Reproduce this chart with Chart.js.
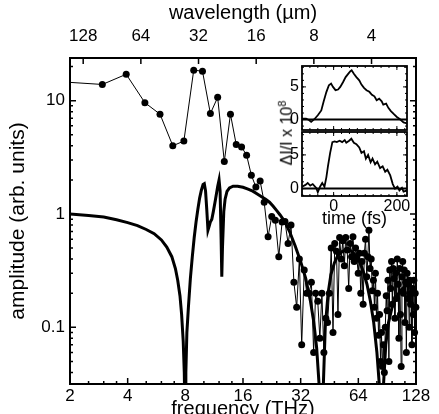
<!DOCTYPE html>
<html>
<head>
<meta charset="utf-8">
<script src="https://cdn.jsdelivr.net/npm/chart.js@4.4.1/dist/chart.umd.min.js"></script>
<style>
  body { margin: 0; background: #fff; }
  #wrap { position: relative; width: 439px; height: 414px; overflow: hidden; background: #fff; }
  canvas { position: absolute; }
  #insetLabel {
    position: absolute; left: 286px; top: 133px;
    transform: translate(-50%, -50%) rotate(-90deg);
    font: 16px "Liberation Sans", Arial, sans-serif; white-space: nowrap; color: #000;
  }
  #insetLabel sup { font-size: 11px; }
</style>
</head>
<body>
<div id="wrap">
  <canvas id="main" width="439" height="414" style="left:0;top:0"></canvas>
  <canvas id="insetTop" width="142" height="74" style="left:270px;top:58px"></canvas>
  <canvas id="insetBot" width="142" height="100" style="left:270px;top:130px"></canvas>
  <div id="insetLabel">ΔI/I x 10<sup>8</sup></div>
</div>

<script>
// =====================
// Data
// =====================
// axis ticks
const freqTicks = [2, 4, 8, 16, 32, 64, 128];
const freqMinor = [2.5, 3, 3.5, 5, 6, 7, 10, 12, 14, 20, 24, 28, 40, 48, 56, 80, 96, 112];
const waveTicks = [128, 64, 32, 16, 8, 4];
const ampTicks = [0.1, 1, 10];
const timeTicks = [0, 200];
const signalTicks = [0, 5];

// measured spectrum (dots)
const measFreq = [2.0, 2.95, 3.93, 4.92, 5.90, 6.88, 7.86, 8.85, 9.83, 10.81, 11.80, 12.78, 13.76, 14.75, 15.73, 16.71, 17.69, 18.68, 19.66, 20.64, 21.63,
  22.6, 23.6, 24.6, 25.6, 26.5, 27.5, 28.5, 29.5, 30.5, 31.5,
  32.4, 33.4, 34.4, 35.4, 36.4, 37.4, 38.3, 39.3, 40.3, 41.3,
  42.3, 43.3, 44.2, 45.2, 46.2, 47.2, 48.2, 49.2, 50.1, 51.1,
  52.1, 53.1, 54.1, 55.0, 56.0, 57.0, 58.0, 59.0, 60.0, 60.9,
  61.9, 62.9, 63.9, 64.9, 65.9, 66.8, 67.8, 68.8, 69.8, 70.8,
  71.8, 72.7, 73.7, 74.7, 75.7, 76.7, 77.7, 78.6, 79.6, 80.6,
  81.6, 82.6, 83.6, 84.5, 85.5, 86.5, 87.5, 88.5, 89.5, 90.4,
  91.4, 92.4, 93.4, 94.4, 95.4, 96.3, 97.3, 98.3, 99.3, 100.3,
  101.2, 102.2, 103.2, 104.2, 105.2, 106.2, 107.1, 108.1, 109.1, 110.1,
  111.1, 112.1, 113.0, 114.0, 115.0, 116.0, 117.0, 118.0, 118.9, 119.9,
  120.9, 121.9, 122.9, 123.9, 124.8, 125.8, 126.8, 127.8];
const measAmp = [14.5, 13.9, 17.1, 9.6, 7.6, 4.0, 4.4, 18.6, 18.2, 7.7, 10.7, 2.9, 7.6, 4.1, 3.9, 3.3, 2.2, 1.73, 1.95, 1.27, 0.63,
  0.95, 0.88, 0.42, 0.85, 0.86, 0.55, 0.80, 0.25, 0.15, 0.40,
  0.07, 0.32, 0.20, 0.20, 0.25, 0.06, 0.20, 0.17, 0.08, 0.20,
  0.06, 0.12, 0.11, 0.20, 0.50, 0.09, 0.55, 0.47, 0.13, 0.62,
  0.40, 0.58, 0.35, 0.62, 0.48, 0.22, 0.55, 0.42, 0.63, 0.38,
  0.50, 0.40, 0.30, 0.45, 0.20, 0.38, 0.16, 0.45, 0.60, 0.28,
  0.42, 0.72, 0.33, 0.40, 0.21, 0.26, 0.15, 0.30, 0.12, 0.20,
  0.085, 0.13, 0.05, 0.09, 0.045, 0.07, 0.04, 0.10, 0.19, 0.14,
  0.26, 0.05, 0.32, 0.22, 0.38, 0.16, 0.33, 0.27, 0.12, 0.30,
  0.18, 0.40, 0.24, 0.08, 0.33, 0.13, 0.045, 0.28, 0.38, 0.20,
  0.32, 0.11, 0.25, 0.06, 0.30, 0.18, 0.24, 0.10, 0.26, 0.16,
  0.20, 0.07, 0.22, 0.13, 0.26, 0.09, 0.20, 0.15];

// model curve (thick line)
const modelFreq = [2.0, 2.5, 3.0, 3.5, 4.0, 4.5, 5.0, 5.5, 6.0, 6.4, 6.8, 7.1, 7.3, 7.5, 7.65, 7.8, 7.9, 7.97,
  8.05, 8.15, 8.3, 8.5, 8.7, 8.9, 9.1, 9.3, 9.5, 9.7, 9.9, 10.05, 10.2, 10.35, 10.5, 10.65, 10.8, 11.0,
  11.2, 11.5, 11.8, 12.0, 12.15, 12.3, 12.4, 12.5, 12.7, 12.9, 13.2, 13.6, 14.2, 15.0, 16.0, 17.0, 18.0,
  19.0, 20.0, 21.0, 22.0, 23.0, 24.0, 25.0, 26.5, 28.0, 30.0, 32.0, 34.0, 36.0, 37.5, 38.8, 40.0, 41.0,
  42.0, 43.0, 44.5, 46.0, 48.0, 50.0, 53.0, 56.0, 59.0, 62.0, 65.0, 68.0, 71.0, 74.0, 77.0, 80.0, 82.5,
  84.5, 86.5, 89.0, 92.0, 96.0, 100, 106, 112, 120, 128];
const modelAmp = [1.0, 0.97, 0.94, 0.89, 0.84, 0.79, 0.73, 0.67, 0.59, 0.51, 0.42, 0.33, 0.26, 0.19, 0.13, 0.075, 0.04, 0.015,
  0.04, 0.09, 0.15, 0.27, 0.42, 0.62, 0.85, 1.1, 1.38, 1.62, 1.82, 1.85, 1.6, 1.1, 0.72, 0.78, 0.85, 0.9,
  1.05, 1.35, 1.75, 2.0, 1.6, 0.6, 0.28, 0.5, 1.05, 1.35, 1.58, 1.7, 1.76, 1.76, 1.72, 1.66, 1.59,
  1.5, 1.42, 1.35, 1.27, 1.17, 1.07, 0.98, 0.85, 0.7, 0.52, 0.38, 0.27, 0.17, 0.11, 0.065, 0.03, 0.008,
  0.03, 0.1, 0.2, 0.29, 0.37, 0.43, 0.47, 0.48, 0.47, 0.43, 0.38, 0.31, 0.24, 0.17, 0.11, 0.06, 0.03,
  0.008, 0.03, 0.07, 0.11, 0.15, 0.18, 0.21, 0.23, 0.25, 0.26];

// inset: time traces
const timeTop = [-100, -87, -77, -71, -61, -50, -39, -32, -23, -15, -8, -2, 6, 14, 21, 30, 38, 46, 53, 57,
  64, 72, 81, 88, 96, 104, 113, 121, 129, 136, 144, 152, 157, 166, 173, 181, 189, 200, 210, 221, 232];
const traceTop = [0.15, 0.15, -0.1, -0.35, 0.05, 0.65, 1.4, 2.7, 4.2, 5.25, 5.5, 5.0, 4.5, 4.6, 5.0, 5.75, 6.5, 7.0, 7.4, 7.55,
  7.0, 6.5, 6.0, 5.35, 4.85, 4.5, 4.25, 3.8, 3.55, 2.95, 3.2, 2.8, 2.3, 2.45, 1.8, 1.3, 0.9, 0.4, 0.05, -0.45, -0.6];
const timeBot = [-100, -89, -82, -74, -66, -55, -50, -43, -36, -29, -23, -18, -11, -4, 3, 10, 19, 27, 35, 40,
  49, 56, 64, 72, 81, 88, 96, 102, 109, 117, 123, 131, 138, 147, 155, 163, 170, 179, 187, 194,
  202, 208, 216, 221, 232];
const traceBot = [0.28, 0.55, 0.83, 0.44, 0.67, 0.1, -0.55, 0.28, 0.83, 0.28, 1.67, 3.3, 5.3, 6.9, 7.0, 6.9, 7.1, 6.9, 7.2, 6.8,
  7.1, 7.4, 6.8, 6.6, 6.1, 5.3, 5.55, 4.45, 5.0, 3.9, 4.45, 3.6, 4.0, 3.05, 3.3, 2.5, 2.8, 1.95, 0.67, 0.0,
  0.28, -0.28, 0.1, -0.45, -0.28];

// =====================
// Helpers
// =====================
const FONT = "'Liberation Sans', Arial, sans-serif";
const zip = (xs, ys) => xs.map((x, i) => ({ x, y: ys[i] }));

function minorLog(lo, hi) {
  const out = [];
  [0.01, 0.1, 1, 10].forEach((d) => {
    for (let k = 2; k <= 9; k++) {
      const v = k * d;
      if (v > lo && v < hi) out.push(v);
    }
  });
  return out;
}

function range(a, b, step) {
  const out = [];
  for (let v = a; v <= b + 1e-9; v += step) out.push(v);
  return out;
}

// box + inward ticks, drawn with the chart's own scales
const frameTicks = {
  id: "frameTicks",
  beforeDraw(chart, args, opts) {
    if (!opts.fill) return;
    const a = chart.chartArea;
    chart.ctx.save();
    chart.ctx.fillStyle = "#fff";
    chart.ctx.fillRect(a.left, a.top, a.right - a.left, a.bottom - a.top);
    chart.ctx.restore();
  },
  beforeDatasetsDraw(chart, args, opts) {
    if (!opts.zero) return;
    const { ctx, chartArea: a } = chart;
    const y0 = chart.scales.y.getPixelForValue(0);
    ctx.save();
    ctx.strokeStyle = "#000";
    ctx.lineWidth = 2;
    ctx.beginPath();
    ctx.moveTo(a.left, y0);
    ctx.lineTo(a.right, y0);
    ctx.stroke();
    ctx.restore();
  },
  afterDraw(chart, args, opts) {
    const { ctx, chartArea: a } = chart;
    ctx.save();
    ctx.strokeStyle = "#000";
    ctx.lineWidth = opts.tickWidth || 1.5;
    (opts.marks || []).forEach((m) => {
      const sc = chart.scales[m.scale];
      m.values.forEach((v) => {
        const p = sc.getPixelForValue(v);
        ctx.beginPath();
        m.sides.forEach((side) => {
          if (side === "bottom") { ctx.moveTo(p, a.bottom); ctx.lineTo(p, a.bottom - m.len); }
          if (side === "top") { ctx.moveTo(p, a.top); ctx.lineTo(p, a.top + m.len); }
          if (side === "left") { ctx.moveTo(a.left, p); ctx.lineTo(a.left + m.len, p); }
          if (side === "right") { ctx.moveTo(a.right, p); ctx.lineTo(a.right - m.len, p); }
        });
        ctx.stroke();
      });
    });
    ctx.lineWidth = opts.frame || 2;
    ctx.strokeRect(a.left, a.top, a.right - a.left, a.bottom - a.top);
    ctx.restore();
  },
};

Chart.register(frameTicks);

// =====================
// Main spectrum
// =====================
const Y_MIN = 0.0316;
const Y_MAX = 23.8;

new Chart(document.getElementById("main"), {
  type: "scatter",
  data: {
    datasets: [
      {
        data: zip(modelFreq, modelAmp),
        showLine: true,
        borderColor: "#000",
        borderWidth: 3,
        pointRadius: 0,
        tension: 0,
        clip: 0,
      },
      {
        data: zip(measFreq, measAmp),
        showLine: true,
        borderColor: "#000",
        borderWidth: 1,
        backgroundColor: "#000",
        pointBackgroundColor: "#000",
        pointBorderWidth: 0,
        pointRadius: (c) => (c.dataIndex === 0 ? 0 : 3.5),
        tension: 0,
        clip: 4,
      },
    ],
  },
  options: {
    responsive: false,
    animation: false,
    layout: { padding: { left: 0, right: 23, top: 0, bottom: 0 } },
    plugins: {
      legend: { display: false },
      tooltip: { enabled: false },
      frameTicks: {
        frame: 2,
        marks: [
          { scale: "x", values: freqTicks, len: 6, sides: ["bottom"] },
          { scale: "x", values: freqMinor, len: 3, sides: ["bottom"] },
          { scale: "x2", values: waveTicks.map((l) => 300 / l), len: 6, sides: ["top"] },
          { scale: "y", values: ampTicks, len: 6, sides: ["left", "right"] },
          { scale: "y", values: minorLog(Y_MIN, Y_MAX), len: 3, sides: ["left", "right"] },
        ],
      },
    },
    scales: {
      x: {
        type: "logarithmic",
        position: "bottom",
        min: 2,
        max: 128,
        afterBuildTicks: (s) => { s.ticks = freqTicks.map((v) => ({ value: v })); },
        afterFit: (s) => { s.height = 30; },
        grid: { display: false, drawTicks: false },
        border: { display: false },
        ticks: { autoSkip: false, maxRotation: 0, padding: 2, color: "#000", font: { family: FONT, size: 17 }, callback: (v) => String(v) },
        title: { display: true, text: "frequency (THz)", color: "#000", font: { family: FONT, size: 20 }, padding: { top: 0, bottom: -7 } },
      },
      x2: {
        type: "logarithmic",
        position: "top",
        display: true,
        min: 2,
        max: 128,
        afterBuildTicks: (s) => { s.ticks = waveTicks.map((l) => ({ value: 300 / l })); },
        afterFit: (s) => { s.height = 58; },
        grid: { display: false, drawTicks: false },
        border: { display: false },
        ticks: { autoSkip: false, maxRotation: 0, padding: 11, color: "#000", font: { family: FONT, size: 17 }, callback: (v) => String(Math.round(300 / v)) },
        title: { display: true, text: "wavelength (µm)", color: "#000", font: { family: FONT, size: 20 }, padding: { top: 1, bottom: 0 } },
      },
      y: {
        type: "logarithmic",
        min: Y_MIN,
        max: Y_MAX,
        afterBuildTicks: (s) => { s.ticks = ampTicks.map((v) => ({ value: v })); },
        afterFit: (s) => { s.width = 70; },
        grid: { display: false, drawTicks: false },
        border: { display: false },
        ticks: { autoSkip: false, padding: 5, color: "#000", font: { family: FONT, size: 17 }, callback: (v) => String(v) },
        title: { display: true, text: "amplitude (arb. units)", color: "#000", font: { family: FONT, size: 21 }, padding: { top: 6, bottom: 0 } },
      },
    },
  },
});

// =====================
// Inset traces
// =====================
function insetChart(id, times, trace, yMin, yMax, showX, pad) {
  return new Chart(document.getElementById(id), {
    type: "scatter",
    data: {
      datasets: [
        {
          data: zip(times, trace),
          showLine: true,
          borderColor: "#000",
          borderWidth: 1.8,
          pointRadius: 0,
          tension: 0,
          clip: 0,
        },
      ],
    },
    options: {
      responsive: false,
      animation: false,
      layout: { padding: pad },
      plugins: {
        legend: { display: false },
        tooltip: { enabled: false },
        frameTicks: {
          fill: true,
          zero: true,
          frame: 1.8,
          tickWidth: 1,
          marks: [
            { scale: "x", values: range(-100, 225, 25), len: 2, sides: ["top", "bottom"] },
            { scale: "x", values: timeTicks, len: 4, sides: ["top", "bottom"] },
            { scale: "y", values: range(-1, 8, 1), len: 2, sides: ["left", "right"] },
            { scale: "y", values: signalTicks, len: 4, sides: ["left", "right"] },
          ],
        },
      },
      scales: {
        x: {
          type: "linear",
          min: -100,
          max: 232,
          display: showX,
          afterBuildTicks: (s) => { s.ticks = timeTicks.map((v) => ({ value: v })); },
          afterFit: (s) => { s.height = showX ? 34 : 0; },
          grid: { display: false, drawTicks: false },
          border: { display: false },
          ticks: { autoSkip: false, maxRotation: 0, padding: 1, color: "#000", font: { family: FONT, size: 16 } },
          title: { display: true, text: "time (fs)", color: "#000", font: { family: FONT, size: 18 }, padding: 0 },
        },
        y: {
          type: "linear",
          min: yMin,
          max: yMax,
          afterBuildTicks: (s) => { s.ticks = signalTicks.map((v) => ({ value: v })); },
          afterFit: (s) => {
            s.width = 32;
            s.paddingTop = 0;
            s.paddingBottom = 0;
          },
          grid: { display: false, drawTicks: false },
          border: { display: false },
          ticks: { autoSkip: false, padding: 3, color: "#000", font: { family: FONT, size: 16 } },
        },
      },
    },
  });
}

insetChart("insetTop", timeTop, traceTop, -1.6, 8.2, false, { left: 0, right: 5, top: 8, bottom: 2 });
insetChart("insetBot", timeBot, traceBot, -1.1, 8.4, true, { left: 0, right: 5, top: 2, bottom: 0 });
</script>
</body>
</html>
